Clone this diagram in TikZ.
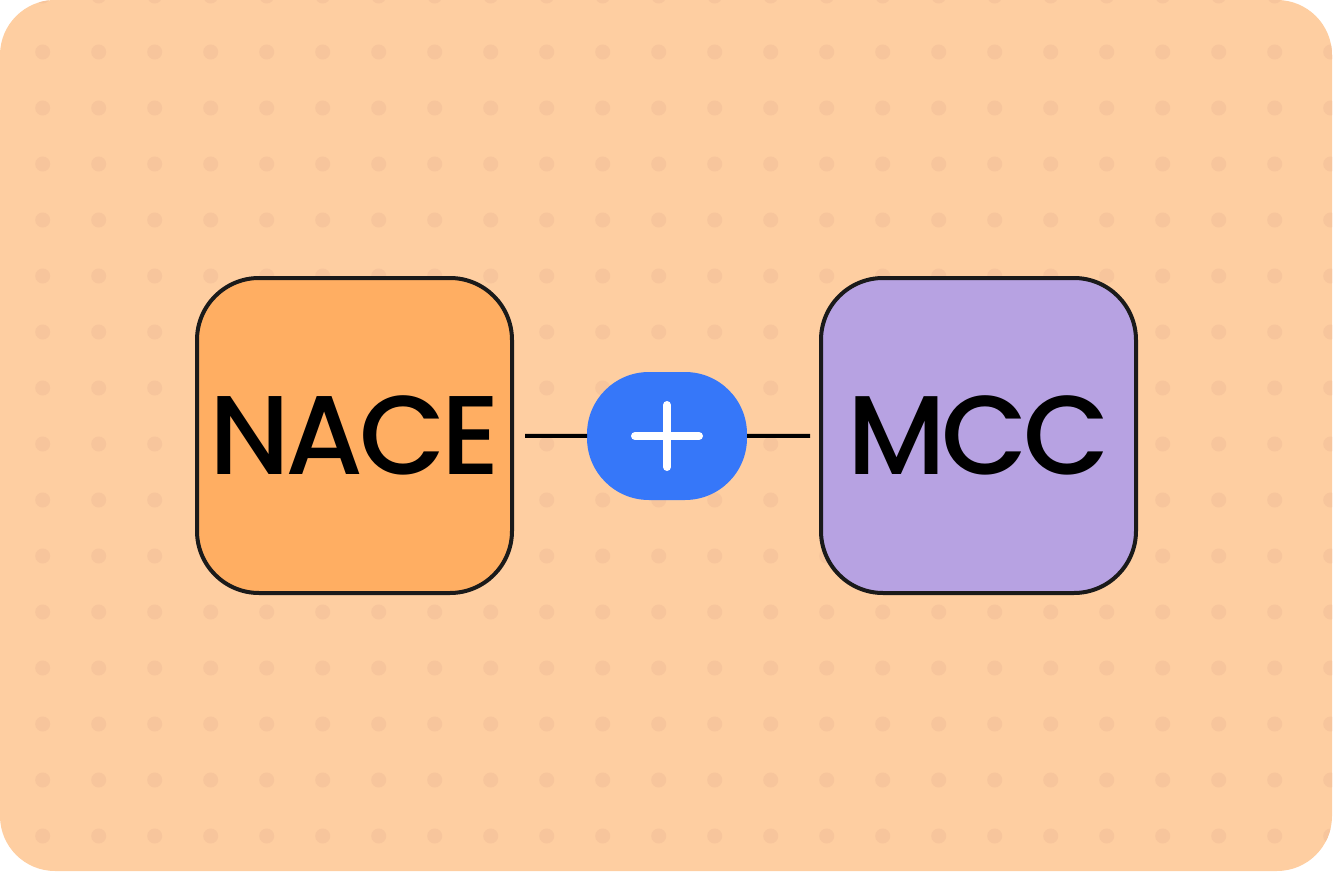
\documentclass[tikz,border=0pt]{standalone}
\usepackage{fontspec}
\newfontfamily\boxfont{Poppins Medium}[LetterSpace=-4]
\definecolor{bgpeach}{HTML}{FECEA1}
\definecolor{dotpeach}{HTML}{F7C59C}
\definecolor{naceorange}{HTML}{FFAE62}
\definecolor{mccpurple}{HTML}{B7A2E2}
\definecolor{plusblue}{HTML}{3677F9}
\definecolor{edgedark}{HTML}{1A1A1A}
\tikzset{
  codebox/.style={draw=edgedark, line width=4pt, rounded corners=62pt,
    minimum width=315pt, minimum height=315pt, inner sep=0pt, outer sep=0pt,
    font=\boxfont\fontsize{112}{112}\selectfont, text=black},
  pluspill/.style={fill=plusblue, draw=none, rounded corners=62pt,
    minimum width=160pt, minimum height=128pt, inner sep=0pt, outer sep=0pt},
  joinline/.style={line width=4pt, black},
  plusbar/.style={white, line width=8pt, line cap=round}
}
\begin{document}
\begin{tikzpicture}[x=1pt, y=-1pt]
\useasboundingbox (0,0) rectangle (1334,872);
\fill[bgpeach, rounded corners=55pt] (0,0) rectangle (1332,871);
\begin{scope}
  \clip[rounded corners=55pt] (0,0) rectangle (1332,871);
  \foreach \i in {0,...,23} {
    \foreach \j in {0,...,16} {
      \fill[dotpeach] (42.7+56*\i, -4+56*\j) circle (7.5pt);
    }
  }
\end{scope}
\node[codebox, fill=naceorange] (nace) at (354.5,435.5) {NACE};
\node[codebox, fill=mccpurple] (mcc) at (978.5,435.5) {MCC};
\node[pluspill] (plus) at (667,436) {};
\draw[joinline, shorten <=13pt] (nace) -- (plus);
\draw[joinline, shorten >=11pt] (plus) -- (mcc);
\draw[plusbar] ([xshift=-32pt]plus.center) -- ([xshift=32pt]plus.center);
\draw[plusbar] ([yshift=-31pt]plus.center) -- ([yshift=31pt]plus.center);
\end{tikzpicture}
\end{document}
